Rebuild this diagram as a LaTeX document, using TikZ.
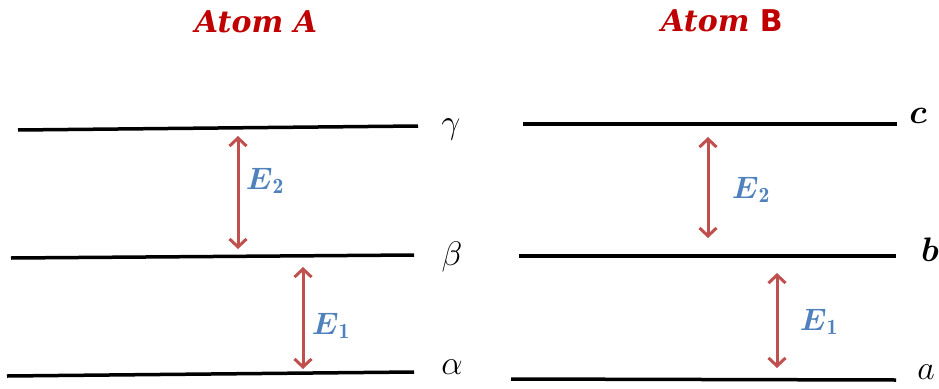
\RequirePackage{fix-cm}
\documentclass[tikz,border=0pt]{standalone}
\usepackage{fontspec}
\usepackage{amsmath}
\usetikzlibrary{arrows.meta}
\newfontfamily\titleserif{DejaVu Serif}
\newfontfamily\titlesans{DejaVu Sans}
\definecolor{titlered}{RGB}{192,0,0}
\definecolor{jumpred}{RGB}{192,80,77}
\definecolor{eblue}{RGB}{79,129,189}
\tikzset{
  level/.style={line width=3.5pt},
  jump/.style={jumpred, line width=3pt,
    {Straight Barb[length=8pt,width=17pt]}-{Straight Barb[length=8pt,width=17pt]}},
  title/.style={text=titlered, font=\titleserif\bfseries\itshape\fontsize{30}{34}\selectfont},
  lvlname/.style={font=\fontsize{34}{38}\selectfont},
  elabel/.style={text=eblue, font=\fontsize{31}{34}\selectfont}
}
\begin{document}
\begin{tikzpicture}[x=1pt,y=-1pt]
\useasboundingbox (0,0) rectangle (939,388);

% Atom A
\node[title] at (256,22) (tA) {Atom A};
\coordinate (g1) at (18,130); \coordinate (g2) at (418,126);
\coordinate (b1) at (11,258); \coordinate (b2) at (414,255);
\coordinate (a1) at (7,376);  \coordinate (a2) at (414,372);
\draw[level] (g1) -- (g2);
\draw[level] (b1) -- (b2);
\draw[level] (a1) -- (a2);
\node[lvlname] at (451,129) (gA) {$\gamma$};
\node[lvlname] at (452,257) (bA) {$\beta$};
\node[lvlname] at (452,367) (aA) {$\alpha$};
\coordinate (uA2) at (238,136); \coordinate (dA2) at (238,249);
\coordinate (uA1) at (303,267); \coordinate (dA1) at (303,369);
\draw[jump] (uA2) -- (dA2);
\draw[jump] (uA1) -- (dA1);
\node[elabel] at (265,181) (eA2) {$\boldsymbol{E}_{\mathbf{2}}$};
\node[elabel] at (331,326) (eA1) {$\boldsymbol{E}_{\mathbf{1}}$};

% Atom B
\node[title] at (722,21) (tB) {Atom {\titlesans\upshape B}};
\coordinate (c1) at (523,124); \coordinate (c2) at (897,124);
\coordinate (bb1) at (519,256); \coordinate (bb2) at (896,256);
\coordinate (ab1) at (511,379); \coordinate (ab2) at (896,380);
\draw[level] (c1) -- (c2);
\draw[level] (bb1) -- (bb2);
\draw[level] (ab1) -- (ab2);
\node[lvlname] at (918,116) (cB) {$\boldsymbol{c}$};
\node[lvlname] at (930,250) (bB) {$\boldsymbol{b}$};
\node[lvlname] at (926,372) (aB) {$a$};
\coordinate (uB2) at (708,137); \coordinate (dB2) at (708,238);
\coordinate (uB1) at (777,273); \coordinate (dB1) at (777,368);
\draw[jump] (uB2) -- (dB2);
\draw[jump] (uB1) -- (dB1);
\node[elabel] at (751,190) (eB2) {$\boldsymbol{E}_{\mathbf{2}}$};
\node[elabel] at (819,322) (eB1) {$\boldsymbol{E}_{\mathbf{1}}$};
\end{tikzpicture}
\end{document}
